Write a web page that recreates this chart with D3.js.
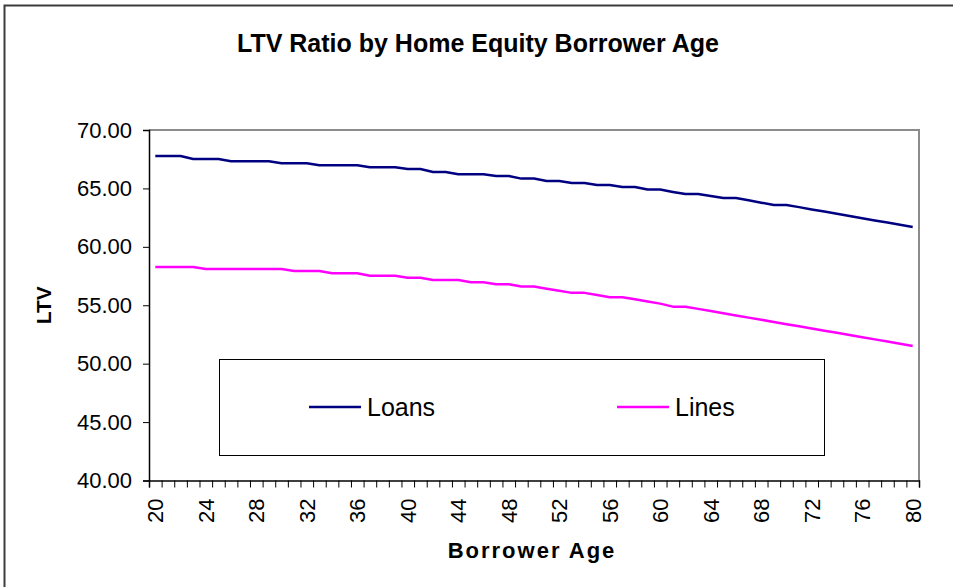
<!DOCTYPE html>
<html>
<head>
<meta charset="utf-8">
<script src="https://cdn.jsdelivr.net/npm/d3@7"></script>
<style>
  body { margin: 0; background: #fff; }
  svg { display: block; font-family: "Liberation Sans", Arial, sans-serif; }
</style>
</head>
<body>
<svg id="chart"></svg>
<script>
// Borrower age categories
const ages = d3.range(20, 81);

// LTV values
const loans = [
    67.78, 67.78, 67.78, 67.52, 67.52, 67.52, 67.32, 67.32, 67.32, 67.32,
    67.15, 67.15, 67.15, 66.98, 66.98, 66.98, 66.98, 66.81, 66.81, 66.81,
    66.66, 66.66, 66.41, 66.41, 66.21, 66.21, 66.21, 66.07, 66.07, 65.84,
    65.84, 65.64, 65.64, 65.47, 65.47, 65.30, 65.30, 65.12, 65.12, 64.90,
    64.90, 64.70, 64.52, 64.52, 64.35, 64.18, 64.18, 63.98, 63.78, 63.58,
    63.58, 63.40, 63.20, 63.02, 62.83, 62.64, 62.45, 62.26, 62.08, 61.89,
    61.70
];
const lines = [
    58.28, 58.28, 58.28, 58.28, 58.11, 58.11, 58.11, 58.11, 58.11, 58.11,
    58.11, 57.94, 57.94, 57.94, 57.74, 57.74, 57.74, 57.53, 57.53, 57.53,
    57.36, 57.36, 57.17, 57.17, 57.17, 56.97, 56.97, 56.80, 56.80, 56.60,
    56.60, 56.42, 56.24, 56.06, 56.06, 55.88, 55.69, 55.69, 55.51, 55.33,
    55.14, 54.88, 54.88, 54.69, 54.51, 54.32, 54.13, 53.94, 53.76, 53.57,
    53.38, 53.20, 53.01, 52.82, 52.64, 52.45, 52.26, 52.08, 51.89, 51.71,
    51.52
];

const seriesNames = ['Loans', 'Lines'];
const seriesColors = ['#000080', '#ff00ff'];
const yTicks = [40, 45, 50, 55, 60, 65, 70];
const xLabelAges = ages.filter(a => a % 4 === 0);

const W = 953, H = 587;
const plot = { left: 149, right: 919, top: 130, bottom: 480.5 };

const svg = d3.select('#chart')
    .attr('width', W)
    .attr('height', H);

svg.append('rect')
    .attr('width', W)
    .attr('height', H)
    .attr('fill', '#fff');

// chart area border (only left and top edges are in frame)
svg.append('path')
    .attr('d', `M4.5,${H} V5.5 H${W}`)
    .attr('fill', 'none')
    .attr('stroke', '#3c3c3c')
    .attr('stroke-width', 2);

// Scales
const x = d3.scaleBand()
    .domain(ages)
    .range([plot.left, plot.right])
    .padding(0);
const xEdge = d3.scaleLinear()
    .domain([19.5, 80.5])
    .range([plot.left, plot.right]);
const y = d3.scaleLinear()
    .domain([40, 70])
    .range([plot.bottom, plot.top]);

// Plot area frame: grey top and right
svg.append('path')
    .attr('d', `M${plot.left},${plot.top} H${plot.right} V${plot.bottom}`)
    .attr('fill', 'none')
    .attr('stroke', '#8c8c8c')
    .attr('stroke-width', 2);

// Y axis
const yAxis = svg.append('g')
    .attr('transform', `translate(${plot.left},0)`)
    .call(d3.axisLeft(y)
        .tickValues(yTicks)
        .tickSize(6)
        .tickPadding(11)
        .tickFormat(d3.format('.2f')));
yAxis.select('.domain').attr('stroke', '#000').attr('stroke-width', 1.5);
yAxis.selectAll('.tick line').attr('stroke', '#000');
yAxis.selectAll('.tick text')
    .attr('font-size', 22)
    .attr('fill', '#000')
    .attr('font-family', '"Liberation Sans", Arial, sans-serif');

// X axis: ticks between categories
const xTickAxis = svg.append('g')
    .attr('transform', `translate(0,${plot.bottom})`)
    .call(d3.axisBottom(xEdge)
        .tickValues(d3.range(19.5, 81, 1))
        .tickSize(7)
        .tickFormat(''));
xTickAxis.select('.domain').attr('stroke', '#000').attr('stroke-width', 1.5);
xTickAxis.selectAll('.tick line').attr('stroke', '#000');

// X axis labels, rotated, every fourth age
const xLabelAxis = svg.append('g')
    .attr('transform', `translate(0,${plot.bottom})`)
    .call(d3.axisBottom(x)
        .tickValues(xLabelAges)
        .tickSize(0));
xLabelAxis.select('.domain').remove();
xLabelAxis.selectAll('.tick text')
    .attr('transform', 'rotate(-90)')
    .attr('x', -18)
    .attr('y', 0)
    .attr('dy', '0.36em')
    .attr('text-anchor', 'end')
    .attr('font-size', 22)
    .attr('fill', '#000')
    .attr('font-family', '"Liberation Sans", Arial, sans-serif');

// Lines
const line = d3.line()
    .x((d, i) => x(ages[i]) + x.bandwidth() / 2)
    .y(d => y(d));

[loans, lines].forEach((vals, i) => {
    svg.append('path')
        .datum(vals)
        .attr('d', line)
        .attr('fill', 'none')
        .attr('stroke', seriesColors[i])
        .attr('stroke-width', 2.5)
        .attr('stroke-linejoin', 'round');
});

// Title
svg.append('text')
    .attr('x', 478)
    .attr('y', 52)
    .attr('text-anchor', 'middle')
    .attr('font-size', 25)
    .attr('font-weight', 'bold')
    .text('LTV Ratio by Home Equity Borrower Age');

// Axis titles
svg.append('text')
    .attr('x', 532)
    .attr('y', 558)
    .attr('text-anchor', 'middle')
    .attr('font-size', 22)
    .attr('font-weight', 'bold')
    .attr('letter-spacing', 2)
    .text('Borrower Age');

svg.append('text')
    .attr('transform', `translate(51,${(plot.top + plot.bottom) / 2}) rotate(-90)`)
    .attr('text-anchor', 'middle')
    .attr('font-size', 21)
    .attr('font-weight', 'bold')
    .text('LTV');

// Legend
const legend = svg.append('g');
legend.append('rect')
    .attr('x', 219.5)
    .attr('y', 359.5)
    .attr('width', 605)
    .attr('height', 96)
    .attr('fill', '#fff')
    .attr('stroke', '#000')
    .attr('stroke-width', 1);

const legendX = [309, 617];
seriesNames.forEach((name, i) => {
    legend.append('line')
        .attr('x1', legendX[i])
        .attr('x2', legendX[i] + 52)
        .attr('y1', 407)
        .attr('y2', 407)
        .attr('stroke', seriesColors[i])
        .attr('stroke-width', 2.5);
    legend.append('text')
        .attr('x', legendX[i] + 58)
        .attr('y', 416)
        .attr('font-size', 25)
        .text(name);
});
</script>
</body>
</html>
